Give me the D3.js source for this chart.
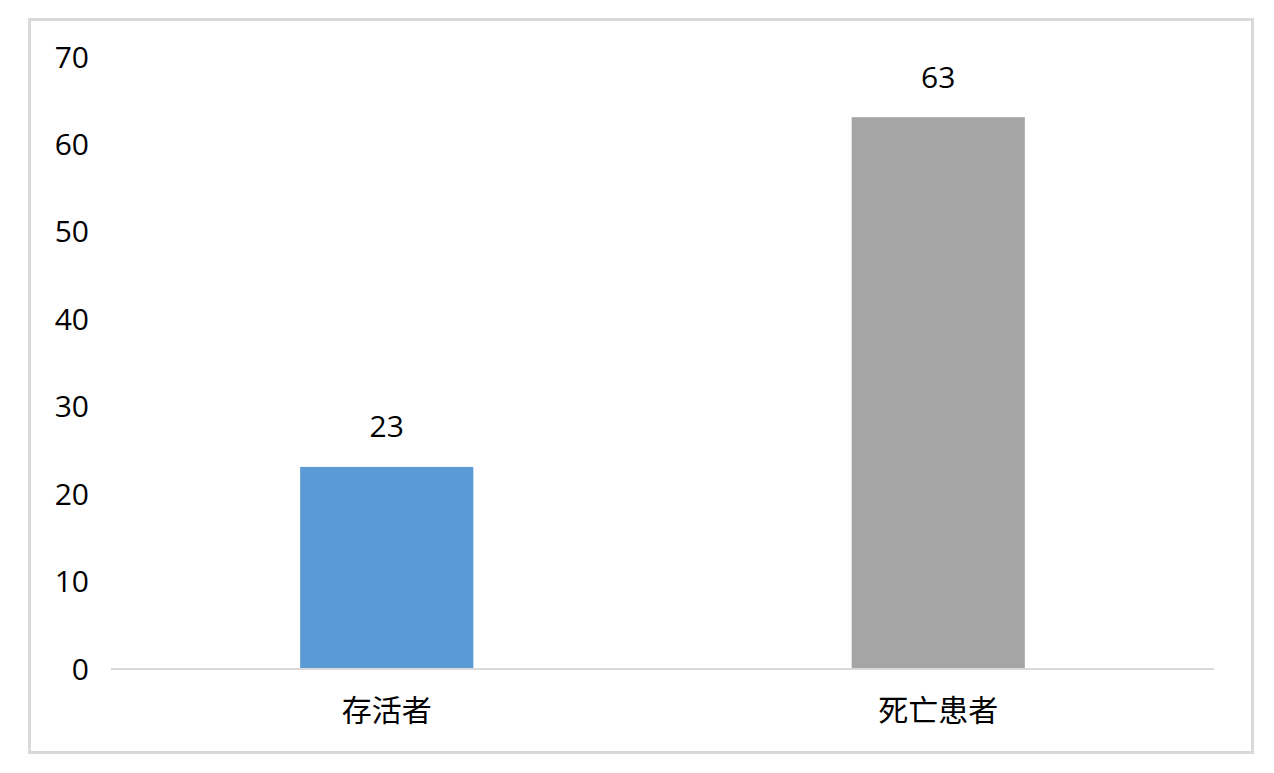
<!DOCTYPE html>
<html lang="zh">
    <head>
        <meta charset="UTF-8">
        <title>存活者 / 死亡患者</title>
        <style>
            * { box-sizing: border-box; }
            body { margin: 0; background: #fff; font-family: 'Open Sans', 'Noto Sans CJK SC', sans-serif; }
            text { fill: #000; }
        </style>
    </head>
    <body>
        <div id="chart"></div>
        <script src="https://cdn.jsdelivr.net/npm/d3@7/dist/d3.min.js"></script>
        <script>
            // data
            var categories = ['存活者', '死亡患者'];
            var values     = [23, 63];
            var barColors  = ['#5b9bd5', '#a5a5a5'];
            var yTicks     = [0, 10, 20, 30, 40, 50, 60, 70];

            var W = 1274, H = 773;
            var fontSize = 30;

            const svg = d3.select('#chart').append('svg').attr('width', W).attr('height', H);

            // outer frame
            svg.append('rect')
               .attr('x', 29.5).attr('y', 19.5).attr('width', 1223).attr('height', 733)
               .style('fill', '#fff').style('stroke', '#d9d9d9').style('stroke-width', 3);

            var x = d3.scaleBand().domain(categories).range([111, 1214]).padding(0);
            var y = d3.scaleLinear().domain([0, 70]).range([668, 56]);
            var barW = x.bandwidth() * 0.314;

            // y tick labels (no axis line)
            svg.append('g').selectAll('text').data(yTicks).join('text')
               .attr('x', 89).attr('y', d => y(d))
               .attr('text-anchor', 'end').attr('dominant-baseline', 'central')
               .style('font-size', fontSize + 'px')
               .text(d => d);

            // bars
            svg.append('g').selectAll('rect').data(values).join('rect')
               .attr('x', (d, i) => x(categories[i]) + x.bandwidth() / 2 - barW / 2)
               .attr('y', d => y(d))
               .attr('width', barW)
               .attr('height', d => y(0) - y(d))
               .style('fill', (d, i) => barColors[i]);

            // baseline
            svg.append('line')
               .attr('x1', x.range()[0]).attr('x2', x.range()[1])
               .attr('y1', y(0) + 1).attr('y2', y(0) + 1)
               .style('stroke', '#d9d9d9').style('stroke-width', 2);

            // value labels
            svg.append('g').selectAll('text').data(values).join('text')
               .attr('x', (d, i) => x(categories[i]) + x.bandwidth() / 2)
               .attr('y', d => y(d) - 41)
               .attr('text-anchor', 'middle').attr('dominant-baseline', 'central')
               .style('font-size', fontSize + 'px')
               .text(d => d);

            // category labels
            svg.append('g').selectAll('text').data(categories).join('text')
               .attr('x', d => x(d) + x.bandwidth() / 2)
               .attr('y', 709)
               .attr('text-anchor', 'middle').attr('dominant-baseline', 'central')
               .style('font-size', fontSize + 'px')
               .text(d => d);
        </script>
    </body>
</html>
